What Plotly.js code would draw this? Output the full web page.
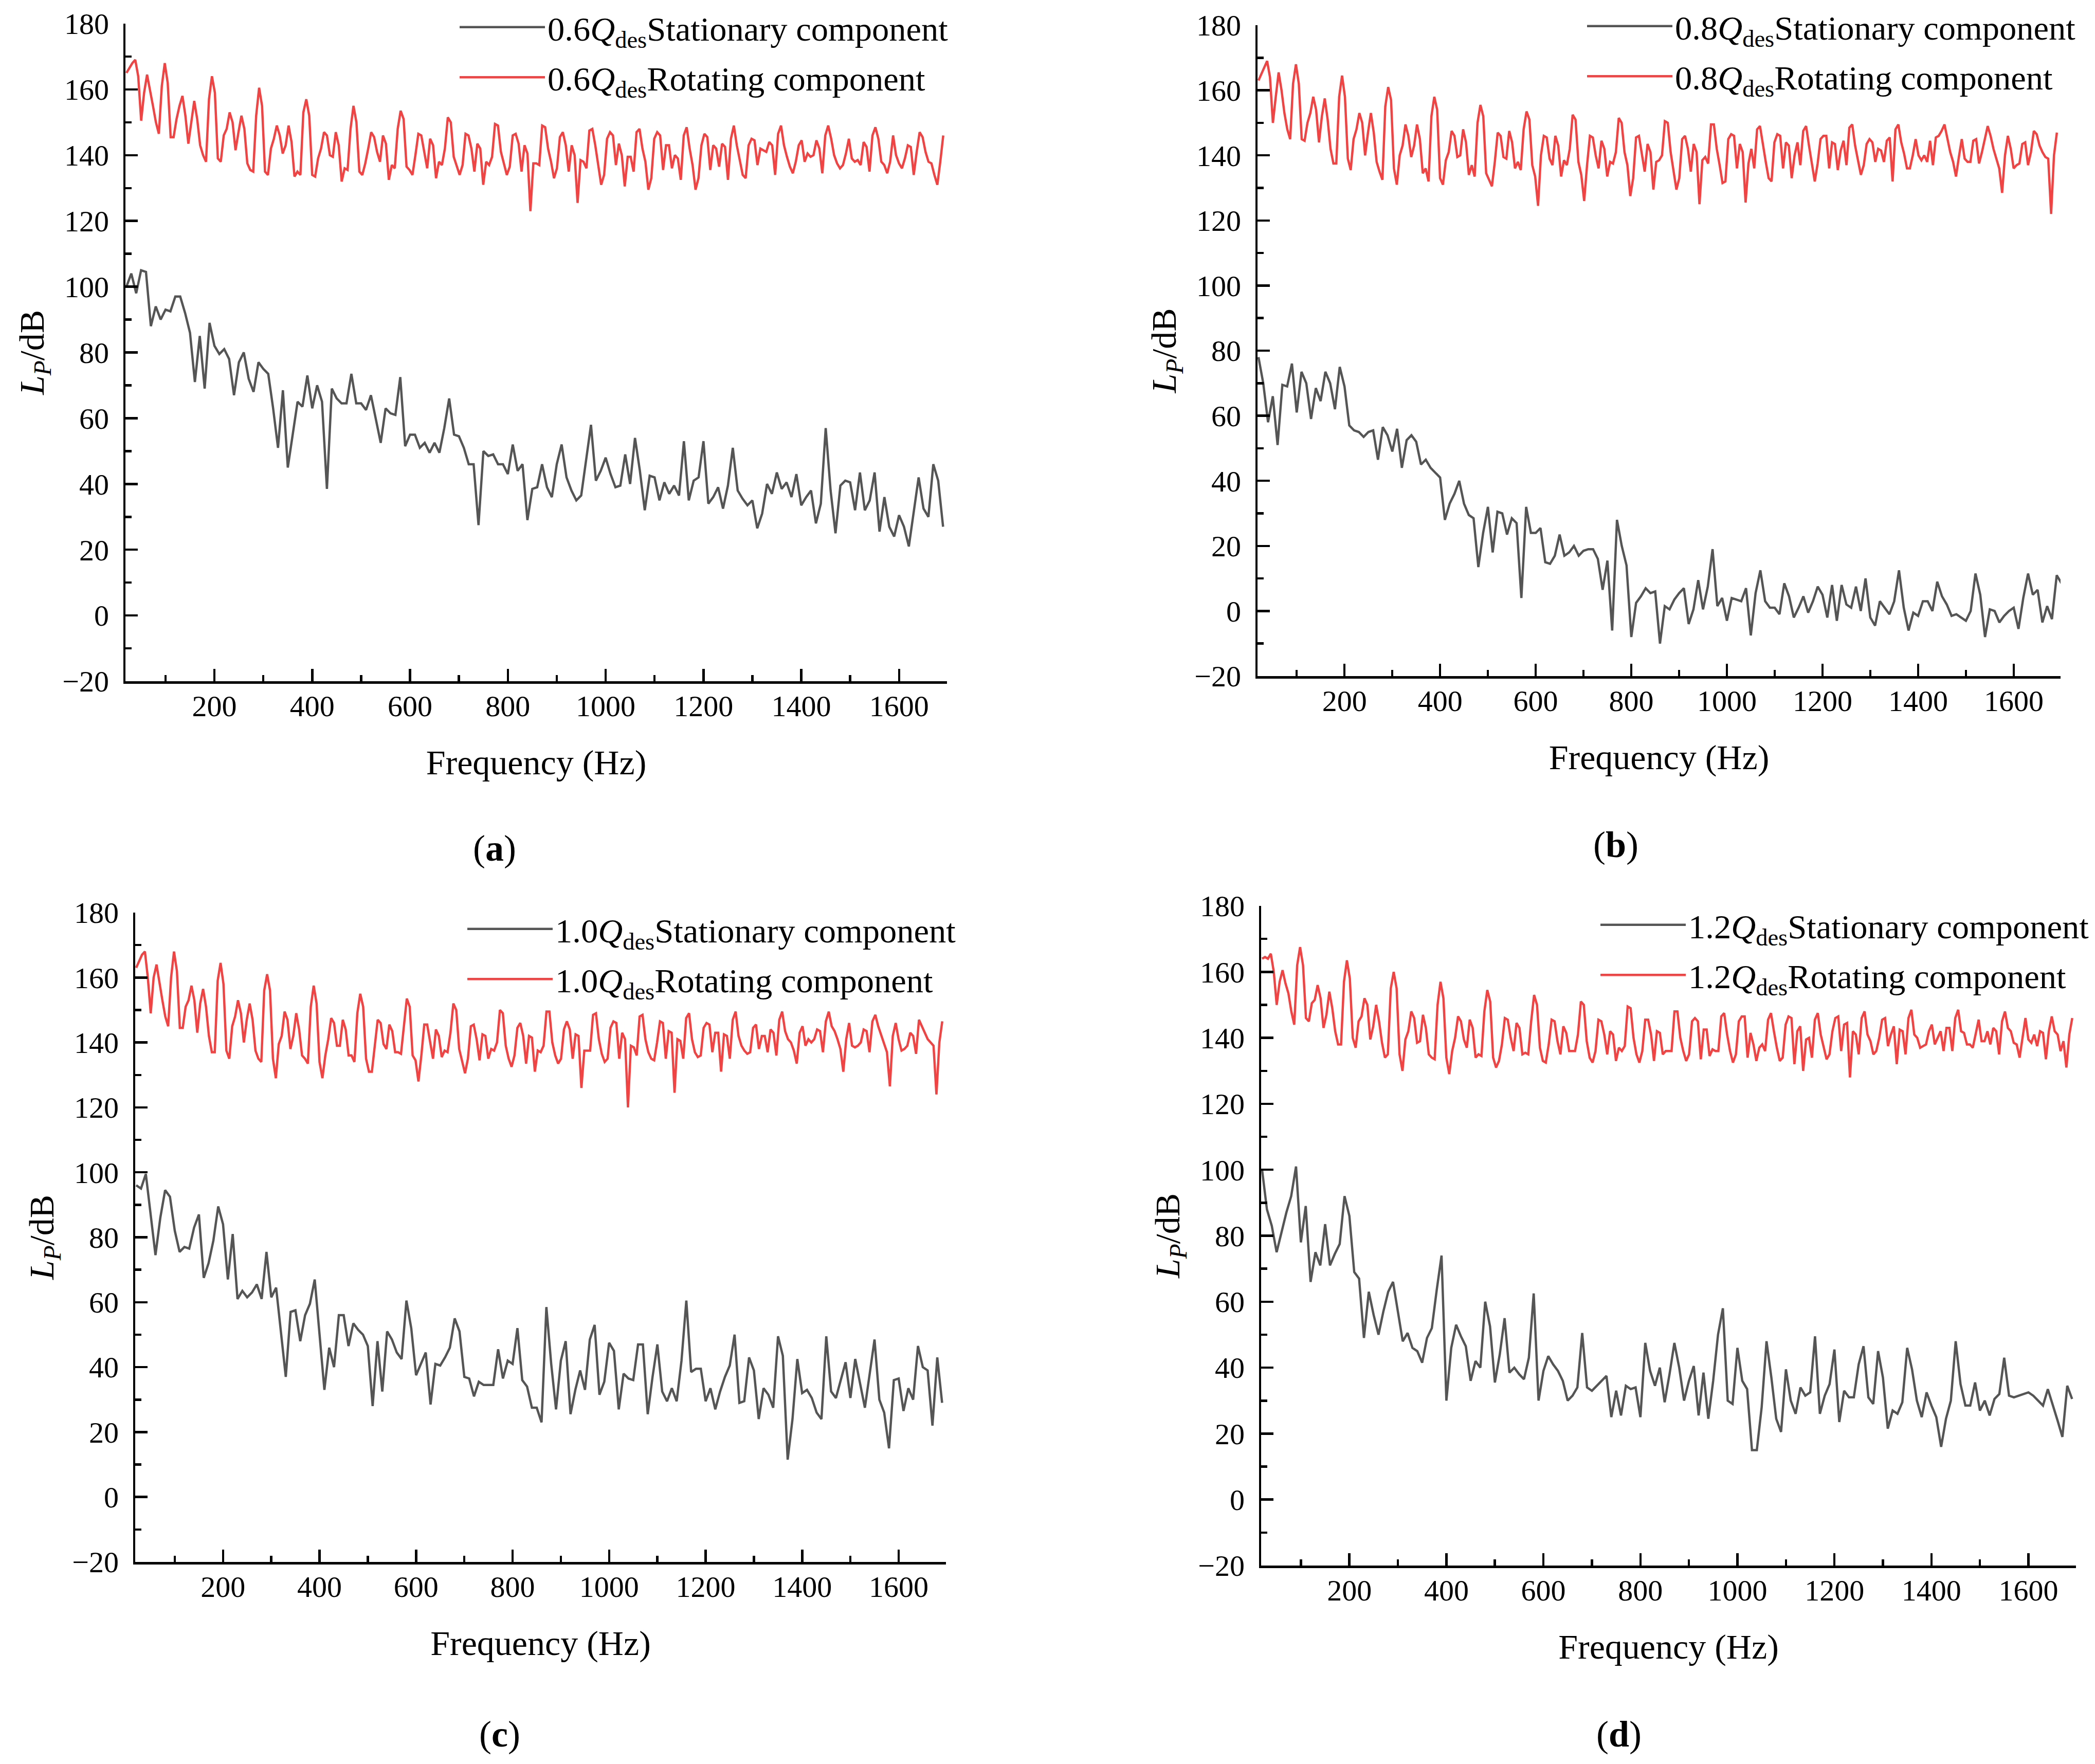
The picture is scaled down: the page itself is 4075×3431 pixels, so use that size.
<!DOCTYPE html>
<html>
<head>
<meta charset="utf-8">
<script src="https://cdn.plot.ly/plotly-3.0.1.min.js"></script>
<style>
  body { margin: 0; background: #fff; }
  #chart { width: 4075px; height: 3431px; }
</style>
</head>
<body>
<div id="chart"></div>
<script>
// Sound pressure level spectra.
// Stationary series: one value every ~10 Hz from 20 Hz.
// Rotating series: one value every ~6 Hz from 20 Hz.

var flows = ['0.6', '0.8', '1.0', '1.2'];
var panel_letters = ['a', 'b', 'c', 'd'];

var stationary_06 = [
  100, 104, 98, 105, 104.5, 88, 94, 90, 93, 92.5,
  97, 97, 92, 86, 71, 85, 69, 89, 82, 79.5,
  81, 78, 67, 77, 80, 72, 68, 77, 75, 73.5,
  63, 51, 68.5, 45, 55, 65, 63.5, 73, 63, 70,
  65, 38.5, 69, 66, 64.5, 64.5, 73.5, 64.5, 64.5, 62.5,
  67, 60, 52.5, 63, 61.5, 61, 72.5, 51.5, 55, 55,
  51, 52.5, 49.5, 52.5, 49.5, 57, 66, 55, 54.5, 51,
  46, 46, 27.5, 50, 48.5, 49, 46, 46, 43, 52,
  44, 46, 29, 38.5, 39, 46, 39, 36, 46, 52,
  42, 38, 35, 36.5, 47, 58, 41, 44, 48, 43,
  39, 39.5, 49, 40, 54, 44, 32, 42.5, 42, 35,
  40.5, 37, 39.5, 36.5, 53, 35, 41, 42, 53, 34,
  36, 39, 32.5, 39.5, 51, 38, 35.5, 33.5, 35, 26.5,
  31, 40, 37, 43.5, 38.5, 40.5, 36, 43, 33.5, 36,
  38, 28, 34, 57, 38, 25, 39.5, 41, 40.5, 32,
  43.5, 32, 35, 43.5, 25.5, 36, 27, 24, 30.5, 27,
  21, 32, 42, 32.5, 30, 46, 41, 27
];

var rotating_06 = [
  165, 166.5, 168, 169, 164, 150.5, 159, 164.5, 160, 155, 150, 146.5, 161,
  168, 162, 145.5, 145.5, 151, 155, 158, 152, 143.5, 150, 156.5, 151, 143, 140, 138, 157,
  164, 159, 139, 138, 146, 148, 153, 150, 141.5, 147, 152, 148, 137.5, 135.5, 135, 152,
  160.5, 155, 135, 134, 142, 145, 149, 146, 140.5, 143, 149, 144, 133.5, 135, 134, 153,
  157, 152, 134, 133.5, 139, 142, 147, 146, 140, 139.5, 147, 143, 132, 136, 135.5, 148,
  155, 150, 135, 134, 137.5, 142, 147, 145.5, 141, 138, 146, 143.5, 132.5, 137, 136, 148,
  153.5, 151, 136.5, 135.5, 134, 140, 146.5, 146, 141, 136, 145, 143, 133, 138, 137, 142,
  151.5, 150, 139.5, 137, 134, 137, 146.5, 146, 142, 135, 143.5, 142, 131, 138, 137, 139.5,
  149.5, 149, 141, 137.5, 134, 136.5, 146, 146.5, 143.5, 135, 143, 140.5, 123, 137.5, 137.5, 137,
  149, 148.5, 142, 138, 133, 136, 145.5, 147, 143, 135, 143, 140, 125.5, 138.5, 138, 136,
  147.5, 148, 143, 137, 131, 134, 145, 147, 146, 137, 143.5, 140, 130.5, 139.5, 139.5, 135,
  147, 148, 142, 138, 129.5, 133, 145, 147, 146, 135.5, 143, 143, 136, 140, 139, 132.5,
  146, 148.5, 142, 137, 129.5, 133, 143, 146.5, 145.5, 135.5, 143, 142, 136.5, 143.5, 142.5, 132.5,
  145, 149, 143, 138.5, 134, 133, 143, 145, 144.5, 137, 142, 141.5, 141, 144, 143, 134,
  146.5, 149, 143, 139.5, 136.5, 134.5, 138, 143, 144.5, 138, 140.5, 139.5, 140, 144.5, 142, 134.5,
  146, 149, 145, 140, 137.5, 136, 137, 140.5, 145, 139, 138, 138.5, 137, 144, 142.5, 135,
  146, 148.5, 145, 138, 137, 134.5, 138, 146, 140, 137.5, 136, 139, 143, 142.5, 134, 141,
  147, 145.5, 141, 138, 137.5, 134, 131, 138, 146
];

var stationary_08 = [
  78, 70, 58, 66, 51, 69.5, 69, 76, 61, 73.5,
  70, 59, 68.5, 64.5, 73.5, 70, 62, 75, 69, 57,
  55.5, 55, 53.5, 55, 55.5, 46.5, 56.5, 54, 49, 56,
  44, 52.5, 54, 52, 45, 46.5, 44, 42.5, 41, 28,
  33, 36, 40, 33, 29.5, 28.5, 13.5, 24, 32, 18,
  30.5, 30, 23.5, 28.5, 27, 4, 32, 24, 24, 25.5,
  15, 14.5, 17, 23.5, 17, 18, 20, 17, 18.5, 19,
  19, 16, 6.5, 15.5, -6, 28, 20, 14, -8, 2.5,
  4.5, 7, 5.5, 6, -10, 1.5, 0.5, 3.5, 5.5, 7,
  -4, 0.5, 9.5, 0.5, 7.5, 19, 1.5, 4, -3, 4,
  3.5, 3, 7, -7.5, 5.5, 12.5, 3, 1, 1, -1,
  8.5, 4.5, -2, 1, 4.5, -0.5, 3, 7.5, 5, -2,
  8, -3, 8, 2, 1, 7.5, 0, 10, -2, -4.5,
  3, 1, -1, 3, 12.5, 1, -6, -0.5, -1.5, 3,
  3, 0, 9, 4.5, 2, -1.5, -1, -2, -3, 0,
  11.5, 5, -8, 0.5, 0, -3.5, -1.5, 0, 1, -5.5,
  4, 11.5, 5, 6.5, -3.5, 1.5, -2.5, 11, 8.5
];

var rotating_08 = [
  163, 165, 167, 169, 164, 150, 158, 165.5, 160, 153, 148, 145, 162,
  168, 162, 145, 144.5, 150, 153, 158, 154, 144, 152, 157.5, 151, 142, 137.5, 137.5, 158,
  164.5, 158, 139, 135.5, 145, 148, 153, 150, 140, 147, 153, 147, 138, 135, 132.5, 155,
  161, 157, 136, 131, 140, 143, 149.5, 146, 139.5, 143, 149.5, 145, 134.5, 136, 132, 152,
  158, 154, 133, 131, 138.5, 141, 147.5, 146, 139.5, 140, 148, 144, 134, 137, 133.5, 150,
  155.5, 152, 134.5, 132.5, 130.5, 138, 147, 146, 139.5, 139, 147.5, 144, 136, 138, 135.5, 148,
  153.5, 151, 137, 133.5, 124.5, 140, 146, 145.5, 139, 137, 146, 143, 133.5, 138.5, 137, 142,
  152.5, 151, 138, 134, 126, 137, 146, 145.5, 140, 136, 144.5, 142, 133.5, 138, 137.5, 141,
  151.5, 150, 141, 137, 127.5, 133, 145.5, 146, 141, 135, 143.5, 141, 129.5, 138, 138.5, 140,
  150.5, 150, 141, 135.5, 129.5, 133, 145, 146, 142, 135, 143.5, 141, 125, 138.5, 139.5, 137.5,
  149.5, 149.5, 142, 137, 131.5, 132, 145, 146.5, 146, 136, 143.5, 141, 125.5, 137.5, 142, 136,
  148, 149, 143, 138, 133, 132, 144, 146.5, 146, 136, 144, 143, 133, 140, 144, 137,
  147.5, 149, 143, 137, 132, 137.5, 145, 146, 146, 136, 144, 143.5, 135.5, 141.5, 144.5, 137,
  148.5, 149.5, 143, 138.5, 134, 137, 143.5, 145, 144, 138, 142, 141.5, 138, 144.5, 145.5, 132,
  148, 149.5, 144, 140.5, 136, 136, 140, 145, 140, 138.5, 140, 138, 144.5, 137, 145.5, 146,
  147.5, 149.5, 145, 141, 138, 133.5, 139.5, 145, 139, 138, 138, 144.5, 145, 137.5, 141, 145,
  149, 146, 142, 139, 136, 128.5, 140, 146, 142, 136, 137, 137.5, 143.5, 144, 137, 141,
  147.5, 146.5, 143, 141, 139.5, 139, 122, 140, 147
];

var stationary_10 = [
  96, 95, 99.5, 87, 74.5, 86, 94.5, 92.5, 82, 75.5,
  77, 76.5, 83, 87, 67.5, 72, 79, 89.5, 84, 67,
  81, 61, 63.5, 61.5, 63, 65.5, 61, 75.5, 61.5, 64.5,
  51, 37, 57, 57.5, 48, 56, 59.5, 67, 50, 33,
  46, 40, 56, 56, 46.5, 53.5, 51.5, 50, 46.5, 28,
  48, 32.5, 51, 48.5, 44.5, 42.5, 60.5, 52, 37.5, 41,
  44.5, 28.5, 41, 40.5, 43, 46, 55, 51, 37, 36.5,
  31, 35.5, 34.5, 34.5, 34.5, 45.5, 36.5, 42, 41, 52,
  36, 34, 27.5, 27.5, 23, 58.5, 41, 27, 42, 48,
  25.5, 33, 39, 33, 48.5, 53, 31.5, 35.5, 47.5, 45,
  27, 38, 36.5, 36, 47, 47, 25.5, 37, 47, 32.5,
  29.5, 33.5, 29.5, 42, 60.5, 38.5, 39.5, 39.5, 29.5, 33.5,
  27, 32.5, 37, 40.5, 50, 29, 29.5, 43, 39, 24,
  33.5, 31.5, 27.5, 49.5, 43.5, 11.5, 24, 42.5, 32, 33,
  30.5, 26, 24, 49.5, 32.5, 30.5, 36, 41.5, 30.5, 42.5,
  35, 27.5, 38, 48.5, 30, 26, 15, 36, 36.5, 26.5,
  33.5, 30, 46.5, 40, 39, 22, 43, 29
];

var rotating_10 = [
  163, 165, 167, 168, 160, 149, 160, 164, 158, 153, 148, 145, 160,
  168, 162, 144.5, 144.5, 151, 153, 157.5, 153, 143, 152, 156.5, 151, 142, 137, 137, 159,
  164.5, 158, 137.5, 135, 145, 148, 153, 149, 140, 147, 152, 147, 137.5, 135, 134, 156,
  161, 156, 135, 129, 139.5, 142, 149.5, 147, 138, 142, 149, 144, 136, 135, 133.5, 151,
  157.5, 152, 134, 129, 136, 141, 147.5, 146, 139, 139, 147, 144, 136, 136, 134, 149,
  155, 151, 135, 131, 131, 139, 147, 146, 139.5, 138, 145.5, 143.5, 137, 137, 136.5, 145,
  153.5, 151, 136, 134.5, 128, 136, 145.5, 145.5, 140, 135, 144, 142, 135.5, 137.5, 137, 143,
  152, 150, 138, 134.5, 130.5, 135, 145, 145.5, 141, 134.5, 142.5, 142, 135, 138, 137.5, 140,
  150, 149, 139, 135, 132.5, 136, 144.5, 146, 142, 133.5, 142, 141.5, 131, 137.5, 137, 139,
  149.5, 149.5, 140, 136, 133.5, 135, 144, 146.5, 144, 135, 142.5, 142, 126, 137.5, 137.5, 137.5,
  148.5, 149, 141, 136.5, 134, 135, 144.5, 146.5, 146, 135, 143, 141, 120, 139, 138.5, 136,
  148, 148.5, 141, 137, 135, 134.5, 140, 146.5, 146, 135, 143.5, 143, 124.5, 141, 140.5, 135,
  147.5, 149, 141, 137, 135.5, 136, 144.5, 146, 145.5, 137, 143, 143, 131, 142.5, 142, 135,
  147, 149.5, 142, 139, 137.5, 136.5, 137, 144.5, 145.5, 138, 142, 142, 137, 144, 143, 136,
  147, 149.5, 143.5, 141, 140, 137.5, 133.5, 143, 145, 139, 141, 140, 141, 144, 143.5, 137,
  146.5, 149.5, 145, 143.5, 141, 138, 131, 141, 146, 139, 138.5, 139, 140, 144, 143.5, 137,
  146.5, 148.5, 145, 142.5, 140, 137, 126.5, 142, 146, 141, 137.5, 138, 139, 143, 142, 136.5,
  147, 145, 143, 141, 140, 139, 124, 140, 146.5
];

var stationary_12 = [
  100, 88, 83, 75, 81, 87, 92, 101, 78, 89,
  66, 75, 71, 83.5, 71, 74.5, 77.5, 92, 86, 69,
  67, 49, 63, 56, 50, 57, 63, 66, 57, 48,
  50.5, 46, 45, 41.5, 49, 52, 63.5, 74, 30, 46,
  53, 49.5, 46.5, 36, 42, 40, 60, 52.5, 35.5, 44,
  55, 38.5, 40, 38, 36.5, 43, 62.5, 30, 39, 43.5,
  41, 39, 36, 30, 31.5, 34, 50.5, 34, 33, 34.5,
  36, 37.5, 25, 33, 25.5, 34.5, 33.5, 34, 25, 47.5,
  39, 34.5, 40, 29.5, 38, 47.5, 40, 30, 36, 40.5,
  25.5, 38.5, 24.5, 36, 50, 58, 30, 29, 46, 36,
  33.5, 15, 15, 28, 48, 37, 24.5, 20.5, 39.5, 30,
  26, 34, 31.5, 32.5, 49.5, 26, 31.5, 35, 45.5, 23.5,
  33, 31, 31, 41, 46.5, 31, 29, 45, 37, 21.5,
  27, 26, 29.5, 46, 39.5, 30, 25, 32.5, 28.5, 25,
  16, 24.5, 30, 48, 35, 28.5, 28.5, 35.5, 27, 30,
  25.5, 30.5, 32, 43, 31.5, 31, 31.5, 32, 32.5, 31.5,
  30, 28.5, 33.5, 29, 24, 19, 34.5, 30.5
];

var rotating_12 = [
  164, 164.5, 164, 165.5, 160, 150, 157, 160.5, 156.5, 153.5, 148, 144, 162,
  167.5, 162, 146, 145, 150.5, 151.5, 156, 152, 143, 147, 154, 149, 142, 138, 138, 157,
  163.5, 158, 140, 137, 145, 146.5, 152, 150, 139.5, 143.5, 150, 145, 138.5, 134, 135, 155,
  160, 155, 135, 130, 139.5, 142, 148, 146, 138.5, 139, 147, 143, 135, 134, 133.5, 150,
  157, 152, 134, 129, 136, 140, 146.5, 145, 139.5, 137, 145.5, 143, 134, 135, 134.5, 148,
  154.5, 151, 134, 131, 133, 138, 146, 145.5, 140, 136, 144.5, 143, 135, 135.5, 135, 145,
  153, 150, 137, 133, 132.5, 138, 145.5, 145, 139, 135, 143.5, 141.5, 136, 136, 136, 141,
  151, 150, 139, 134, 132.5, 136, 145.5, 145, 141, 135, 142, 141, 133, 137, 136, 137.5,
  149.5, 149, 140, 135, 132.5, 136, 145.5, 145.5, 141, 133, 142, 141.5, 135, 136, 136, 136,
  148, 148, 140, 136, 133, 135, 145, 146, 145, 133.5, 142.5, 142.5, 134.5, 136.5, 136, 136,
  146.5, 147.5, 141, 136, 132.5, 135, 145, 146.5, 146.5, 134, 141.5, 138, 133, 137, 138, 136,
  145.5, 147.5, 142, 137, 133, 134, 144, 146.5, 146, 132, 142, 143.5, 130, 139.5, 140, 134,
  145.5, 147.5, 141, 137.5, 133.5, 135, 142, 146, 146.5, 136, 144, 144.5, 128, 142, 141, 135,
  146, 148, 141, 139, 135, 136, 140, 145.5, 146, 137.5, 141, 143.5, 132, 142.5, 142, 135,
  146, 148.5, 141, 140, 137, 137.5, 138, 142, 144, 138, 140, 142, 136, 143, 143, 136,
  146, 148.5, 142, 141.5, 138, 138, 137, 141, 145.5, 139, 139, 142, 138, 143, 142, 135,
  145, 148, 143, 142, 138.5, 138, 134, 140, 146, 139.5, 138.5, 141, 137.5, 142, 141.5, 133.5,
  142, 146.5, 142, 141, 136, 139, 131, 141, 146
];

var stationary_series = [stationary_06, stationary_08, stationary_10, stationary_12];
var rotating_series = [rotating_06, rotating_08, rotating_10, rotating_12];

var x_range = [18, 1698];
var y_range = [-20, 180];

var font_family = "'Liberation Serif', 'Times New Roman', serif";
var stationary_color = '#555555';
var rotating_color = '#f04343';

// Figure is 4075 x 3431 with zero margins, so paper fractions map straight to pixels.
var W = 4075;
var H = 3431;
function px_x(p) { return p / W; }
function px_y(p) { return 1 - p / H; }

// plot boxes in pixels [left, right, top, bottom]
var boxes = [
  [244, 1842, 46, 1325],
  [2446, 4008, 49, 1315],
  [263, 1840, 1775, 3038],
  [2453, 4038, 1762, 3045],
];
// legend line start (x) and first row centre (y), in pixels
var legend_pos = [
  [897, 58],
  [3090, 56],
  [912, 1812],
  [3116, 1804],
];
// panel letters (a)-(d), pixel centres
var letter_pos = [
  [962, 1650],
  [3143, 1643],
  [972, 3373],
  [3149, 3373],
];

var data = [];
var layout = {
  width: W,
  height: H,
  margin: { l: 0, r: 0, t: 0, b: 0 },
  paper_bgcolor: '#ffffff',
  plot_bgcolor: '#ffffff',
  font: { family: font_family, size: 58, color: '#000000' },
  annotations: [],
};

function axis_common() {
  return {
    showline: true,
    linewidth: 4.5,
    linecolor: '#000000',
    showgrid: false,
    zeroline: false,
    ticks: 'inside',
    ticklen: 24,
    tickwidth: 4.5,
    tickcolor: '#000000',
    tickfont: { family: font_family, size: 58, color: '#000000' },
  };
}

flows.forEach(function (flow, i) {
  var n = i + 1;
  var xname = n == 1 ? 'x' : 'x' + n;
  var yname = n == 1 ? 'y' : 'y' + n;
  var legend_name = n == 1 ? 'legend' : 'legend' + n;
  var box = boxes[i];

  data.push({
    type: 'scatter',
    mode: 'lines',
    x0: 20,
    dx: 10,
    y: stationary_series[i],
    xaxis: xname,
    yaxis: yname,
    legend: legend_name,
    legendgroup: 'stat' + n,
    name: flow + '<i>Q</i><sub>des</sub>Stationary component',
    line: { color: stationary_color, width: 4.5 },
  });
  data.push({
    type: 'scatter',
    mode: 'lines',
    x0: 20,
    dx: 6.03,
    y: rotating_series[i],
    xaxis: xname,
    yaxis: yname,
    legend: legend_name,
    legendgroup: 'rot' + n,
    name: flow + '<i>Q</i><sub>des</sub>Rotating component',
    line: { color: rotating_color, width: 4.5 },
  });

  var xaxis = axis_common();
  xaxis.domain = [px_x(box[0]), px_x(box[1])];
  xaxis.anchor = yname;
  xaxis.range = x_range;
  xaxis.tick0 = 0;
  xaxis.dtick = 200;
  xaxis.minor = { tick0: 0, dtick: 100, ticks: 'inside', ticklen: 12, tickwidth: 4.5, tickcolor: '#000000' };
  xaxis.ticklabelstandoff = -6;
  xaxis.title = { text: 'Frequency (Hz)', font: { family: font_family, size: 68 }, standoff: 55 };

  var yaxis = axis_common();
  yaxis.domain = [px_y(box[3]), px_y(box[2])];
  yaxis.anchor = xname;
  yaxis.range = y_range;
  yaxis.tick0 = 0;
  yaxis.dtick = 20;
  yaxis.minor = { tick0: 0, dtick: 10, ticks: 'inside', ticklen: 12, tickwidth: 4.5, tickcolor: '#000000' };
  yaxis.ticklabelstandoff = 16;
  yaxis.title = { text: '<i>L<sub>P</sub></i>/dB', font: { family: font_family, size: 68 }, standoff: 15 };

  layout[n == 1 ? 'xaxis' : 'xaxis' + n] = xaxis;
  layout[n == 1 ? 'yaxis' : 'yaxis' + n] = yaxis;

  layout[legend_name] = {
    x: px_x(legend_pos[i][0] - 8),
    y: px_y(legend_pos[i][1] - 55),
    xanchor: 'left',
    yanchor: 'top',
    bgcolor: 'rgba(0,0,0,0)',
    borderwidth: 0,
    itemwidth: 166,
    tracegroupgap: 8,
    traceorder: 'grouped',
    font: { family: font_family, size: 66.5, color: '#000000' },
  };

  layout.annotations.push({
    text: '(<b>' + panel_letters[i] + '</b>)',
    xref: 'paper',
    yref: 'paper',
    x: px_x(letter_pos[i][0]),
    y: px_y(letter_pos[i][1]),
    xanchor: 'center',
    yanchor: 'middle',
    showarrow: false,
    font: { family: font_family, size: 72, color: '#000000' },
  });
});

Plotly.newPlot('chart', data, layout, { staticPlot: true });
</script>
</body>
</html>
